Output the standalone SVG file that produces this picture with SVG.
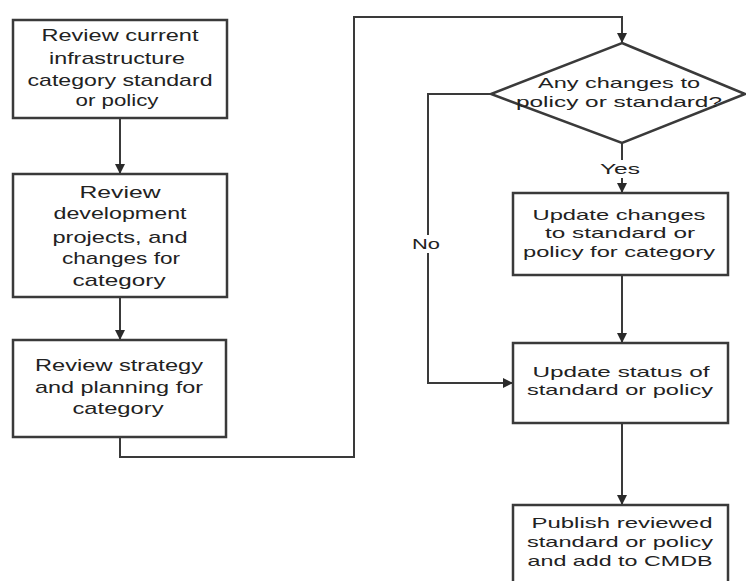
<svg xmlns="http://www.w3.org/2000/svg" width="746" height="581" viewBox="0 0 746 581">
<defs>
<style>
.box{fill:#fff;stroke:#3a3a3a;stroke-width:2.5}
.ln{fill:none;stroke:#3a3a3a;stroke-width:2}
.t{font-family:"Liberation Sans",Arial,sans-serif;fill:#222;text-anchor:middle}
.l{font-size:17px}
.r{font-size:15px}
</style>
<marker id="ah" viewBox="0 0 10 10" refX="10" refY="5" markerWidth="5" markerHeight="5" orient="auto">
<path d="M0,0 L10,5 L0,10 z" fill="#2a2a2a"/>
</marker>
</defs>
<rect width="746" height="581" fill="#fff"/>
<g id="connectors">
<path class="ln" d="M120,118 V174" marker-end="url(#ah)"/>
<path class="ln" d="M120,297 V340" marker-end="url(#ah)"/>
<path class="ln" d="M120,437 V457 H354 V17 H622 V43" marker-end="url(#ah)"/>
<path class="ln" d="M491,94 H428 V383 H513" marker-end="url(#ah)"/>
<path class="ln" d="M622,143 V193" marker-end="url(#ah)"/>
<path class="ln" d="M622,275 V343" marker-end="url(#ah)"/>
<path class="ln" d="M622,423 V505" marker-end="url(#ah)"/>
<rect x="604" y="160" width="36" height="18" fill="#fff"/>
<text class="t r" x="620" y="174" textLength="40" lengthAdjust="spacingAndGlyphs">Yes</text>
<rect x="414" y="235" width="28" height="18" fill="#fff"/>
<text class="t r" x="426" y="249" textLength="28" lengthAdjust="spacingAndGlyphs">No</text>
</g>
<g id="n1">
<rect class="box" x="13" y="20" width="214" height="98"/>
<text class="t l" lengthAdjust="spacingAndGlyphs"><tspan x="120" y="41" textLength="157" lengthAdjust="spacingAndGlyphs">Review current</tspan></text>
<text class="t l" x="117" y="64" textLength="136" lengthAdjust="spacingAndGlyphs">infrastructure</text>
<text class="t l" x="120" y="86" textLength="185" lengthAdjust="spacingAndGlyphs">category standard</text>
<text class="t l" x="117" y="106" textLength="83" lengthAdjust="spacingAndGlyphs">or policy</text>
</g>
<g id="n2">
<rect class="box" x="13" y="174" width="214" height="123"/>
<text class="t l" x="120" y="198" textLength="81" lengthAdjust="spacingAndGlyphs">Review</text>
<text class="t l" x="120" y="219" textLength="133" lengthAdjust="spacingAndGlyphs">development</text>
<text class="t l" x="120" y="243" textLength="135" lengthAdjust="spacingAndGlyphs">projects, and</text>
<text class="t l" x="121" y="264" textLength="118" lengthAdjust="spacingAndGlyphs">changes for</text>
<text class="t l" x="119" y="286" textLength="93" lengthAdjust="spacingAndGlyphs">category</text>
</g>
<g id="n3">
<rect class="box" x="13" y="340" width="213" height="97"/>
<text class="t l" x="119" y="371" textLength="168" lengthAdjust="spacingAndGlyphs">Review strategy</text>
<text class="t l" x="119" y="393" textLength="168" lengthAdjust="spacingAndGlyphs">and planning for</text>
<text class="t l" x="118" y="414" textLength="91" lengthAdjust="spacingAndGlyphs">category</text>
</g>
<g id="n4">
<polygon class="box" points="622,43 745,94 622,143 491,94"/>
<text class="t r" x="619" y="88" textLength="162" lengthAdjust="spacingAndGlyphs">Any changes to</text>
<text class="t r" x="619" y="107" textLength="206" lengthAdjust="spacingAndGlyphs">policy or standard?</text>
</g>
<g id="n5">
<rect class="box" x="513" y="193" width="215" height="82"/>
<text class="t r" x="619" y="220" textLength="173" lengthAdjust="spacingAndGlyphs">Update changes</text>
<text class="t r" x="620" y="238" textLength="150" lengthAdjust="spacingAndGlyphs">to standard or</text>
<text class="t r" x="619" y="257" textLength="192" lengthAdjust="spacingAndGlyphs">policy for category</text>
</g>
<g id="n6">
<rect class="box" x="513" y="343" width="215" height="80"/>
<text class="t r" x="621" y="377" textLength="177" lengthAdjust="spacingAndGlyphs">Update status of</text>
<text class="t r" x="620" y="395" textLength="186" lengthAdjust="spacingAndGlyphs">standard or policy</text>
</g>
<g id="n7">
<rect class="box" x="513" y="505" width="215" height="90"/>
<text class="t r" x="622" y="528" textLength="181" lengthAdjust="spacingAndGlyphs">Publish reviewed</text>
<text class="t r" x="620" y="547" textLength="186" lengthAdjust="spacingAndGlyphs">standard or policy</text>
<text class="t r" x="620" y="566" textLength="185" lengthAdjust="spacingAndGlyphs">and add to CMDB</text>
</g>
</svg>
